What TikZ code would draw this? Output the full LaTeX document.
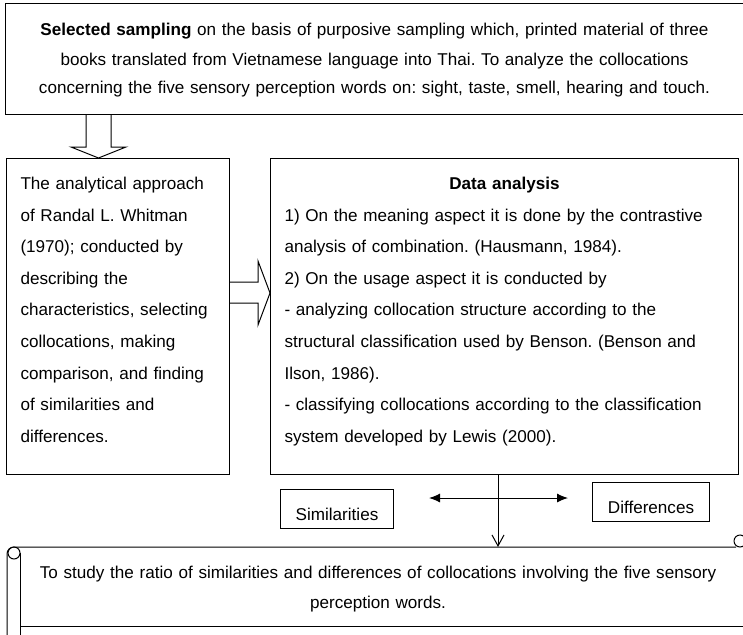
\documentclass[tikz,border=0pt]{standalone}
\usepackage{fontspec}
\setmainfont{Liberation Sans}
\usetikzlibrary{arrows.meta,positioning}
\frenchspacing

\begin{document}
\begin{tikzpicture}[x=1pt, y=-1pt, line width=1pt, >={Latex[length=11pt,width=9pt]}]
\tikzstyle{every node}=[font=\fontsize{17.1}{31.6}\selectfont]
\tikzstyle{box}=[draw, anchor=north west, inner xsep=14pt, inner ysep=0pt, text height=31pt, text depth=285pt, align=left]
\tikzstyle{tag}=[draw, anchor=north west, inner sep=0pt, minimum height=39pt, text height=31pt, text depth=8pt]
\useasboundingbox (0,0) rectangle (743,634);

\node[anchor=north, inner xsep=16pt, inner ysep=0pt, text width=705pt, align=center, text height=31.5pt, text depth=77.5pt, font=\fontsize{17.1}{29}\selectfont] (sampling) at (374.5,4) {\textbf{Selected sampling} on the basis of purposive sampling which, printed material of three\\ books translated from Vietnamese language into Thai. To analyze the collocations\\ concerning the five sensory perception words on: sight, taste, smell, hearing and touch.};
\draw (sampling.north east) ++(8,0) -| (sampling.south west) -- ++(750,0);

\node[box, text width=195pt] (approach) at (6,158) {The analytical approach\\ of Randal L. Whitman\\ (1970); conducted by\\ describing the\\ characteristics, selecting\\ collocations, making\\ comparison, and finding\\ of similarities and\\ differences.};
\node[box, text width=440pt, right=40pt of approach.north east, anchor=north west] (analysis) {\makebox[440pt]{\textbf{Data analysis}}\\ 1) On the meaning aspect it is done by the contrastive\\ analysis of combination. (Hausmann, 1984).\\ 2) On the usage aspect it is conducted by\\ - analyzing collocation structure according to the\\ structural classification used by Benson. (Benson and\\ Ilson, 1986).\\ - classifying collocations according to the classification\\ system developed by Lewis (2000).};

\node[tag, minimum width=113pt] (sim) at (280,489) {Similarities};
\node[tag, minimum width=117pt] (diff) at (592,482) {Differences};

\node[anchor=north, inner ysep=0pt, text width=690pt, align=center, text height=30.5pt, text depth=48.5pt, font=\fontsize{17.1}{30}\selectfont] (study) at (378,547) {To study the ratio of similarities and differences of collocations involving the five sensory\\ perception words.};

% block arrows
\draw (sampling.south -| 86,0) -- ++(0,33) -- ++(-15,0) -- ++(27.5,11) -- ++(27.5,-11) -- ++(-15,0) -- (sampling.south -| 111,0);
\draw (approach.east |- 0,282) -- ++(28,0) -- ++(0,-21) -- (analysis.west |- 0,293) -- ++(-12,32) -- ++(0,-22) -- (approach.east |- 0,303);

% scroll
\draw (7,640) -- (7,554) arc[start angle=180, end angle=270, radius=7] -- (736,547);
\draw (14,553) circle[radius=6];
\draw (740,541) circle[radius=6];
\draw (20,553) -- (20,640);
\draw (20,626) -- (750,626);

\coordinate (cross) at (498,498);
\coordinate (simend) at (429,498);
\coordinate (diffend) at (568,498);
\draw[<->] (simend) -- (diffend);
\draw[-{Straight Barb[length=11pt,width=12pt]}] (analysis.south -| cross) -- (study.north -| cross);

\end{tikzpicture}
\end{document}
